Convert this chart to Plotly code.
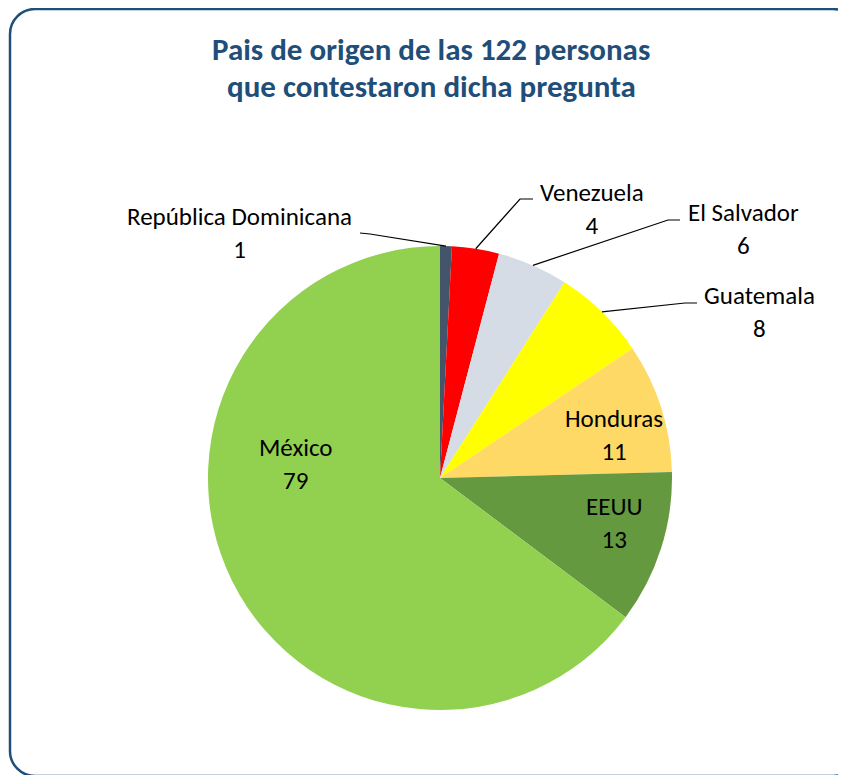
import plotly.graph_objects as go
import math

# The page body adds an 8px margin, so the figure is drawn at (8, 8) in the window.
OFF = 8
W, H = 846 - OFF, 775 - OFF

# ---- data ----
countries = ["República Dominicana", "Venezuela", "El Salvador", "Guatemala",
             "Honduras", "EEUU", "México"]
counts = [1, 4, 6, 8, 11, 13, 79]
colors = ["#44546A", "#FF0000", "#D6DCE5", "#FFFF00", "#FFD966", "#64993F", "#92D050"]
title_lines = ["Pais de origen de las 122 personas", "que contestaron dicha pregunta"]

# ---- layout helpers (window pixel -> paper) ----
def px(x):
    return (x - OFF) / W

def py(y):
    return 1 - (y - OFF) / H

CX, CY, R = 440, 478, 232  # pie placement in window pixels

# label block centres (pixels) and leader-line geometry (elbow, end) for outside labels
label_pos = [(240, 233), (592, 209), (743, 229), (759, 312), (614, 435), (614, 523), (296, 464)]
leaders = {0: [(370, 234), (360, 233)],
           1: [(520, 199), (533, 199)],
           2: [(668, 220), (680, 220)],
           3: [(685, 303), (697, 303)]}

FONT = "Calibri, Carlito, Lato, sans-serif"

fig = go.Figure(go.Pie(
    labels=countries, values=counts, sort=False, direction="clockwise", rotation=0,
    marker=dict(colors=colors, line=dict(width=0)),
    textinfo="none", hoverinfo="label+value", showlegend=False,
    domain=dict(x=[px(CX - R), px(CX + R)], y=[py(CY + R), py(CY - R)]),
))

total = sum(counts)
shapes = []
cum = 0
for i, v in enumerate(counts):
    mid = (cum + v / 2) / total * 2 * math.pi
    cum += v
    if i in leaders:
        ex, ey = CX + R * math.sin(mid), CY - R * math.cos(mid)
        pts = [(ex, ey)] + leaders[i]
        path = "M " + " L ".join(f"{px(a):.5f},{py(b):.5f}" for a, b in pts)
        shapes.append(dict(type="path", path=path, xref="paper", yref="paper",
                           line=dict(color="#000000", width=1.2)))

annotations = []
for (lx, ly), name, v in zip(label_pos, countries, counts):
    annotations.append(dict(
        x=px(lx), y=py(ly), xref="paper", yref="paper", showarrow=False,
        text=f"{name}<br>{v}", align="center", xanchor="center", yanchor="middle",
        font=dict(family=FONT, size=25, color="#000000")))

for line, ty in zip(title_lines, [49, 86]):
    annotations.append(dict(
        x=px(431), y=py(ty), xref="paper", yref="paper", showarrow=False,
        text=f"<b>{line}</b>", align="center", xanchor="center", yanchor="middle",
        font=dict(family=FONT, size=31, color="#1F4E79")))

# rounded frame
x0, y0, x1, y1, r = 10, 9, 858, 776, 25
k = 0.5523 * r
frame = (f"M {px(x0+r)},{py(y0)} L {px(x1-r)},{py(y0)} "
         f"C {px(x1-r+k)},{py(y0)} {px(x1)},{py(y0+r-k)} {px(x1)},{py(y0+r)} "
         f"L {px(x1)},{py(y1-r)} "
         f"C {px(x1)},{py(y1-r+k)} {px(x1-r+k)},{py(y1)} {px(x1-r)},{py(y1)} "
         f"L {px(x0+r)},{py(y1)} "
         f"C {px(x0+r-k)},{py(y1)} {px(x0)},{py(y1-r+k)} {px(x0)},{py(y1-r)} "
         f"L {px(x0)},{py(y0+r)} "
         f"C {px(x0)},{py(y0+r-k)} {px(x0+r-k)},{py(y0)} {px(x0+r)},{py(y0)} Z")
shapes.append(dict(type="path", path=frame, xref="paper", yref="paper",
                   line=dict(color="#1F4E79", width=2.5)))

fig.update_layout(
    width=W, height=H, margin=dict(l=0, r=0, t=0, b=0),
    paper_bgcolor="white", plot_bgcolor="white",
    shapes=shapes, annotations=annotations,
)

fig.write_html("out.html")
